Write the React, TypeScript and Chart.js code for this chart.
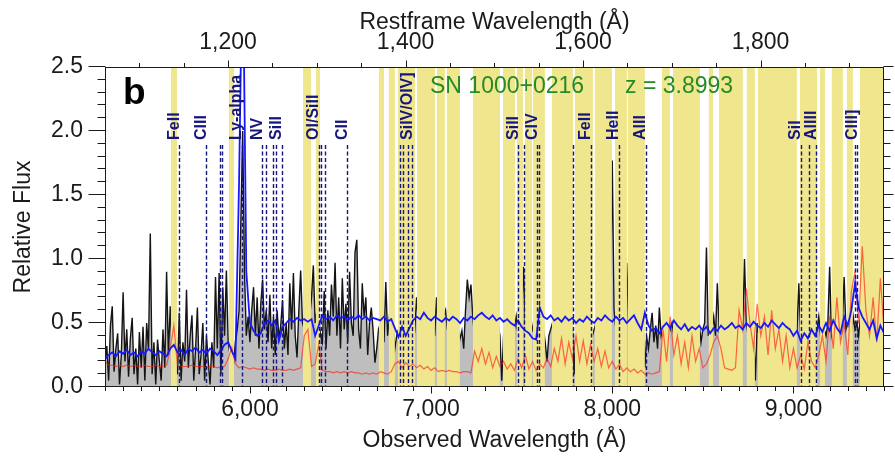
import { useEffect, useRef } from 'react';
import { Chart, registerables } from 'chart.js';

Chart.register(...registerables);

const FONT = '"Liberation Sans", Arial, Helvetica, sans-serif';
Chart.defaults.font.family = FONT;

// Redshift of the host and the observed-frame range shown
const Z = 3.8993;
const OBS_MIN = 5200;
const OBS_MAX = 9500;

// Observed spectrum, 10 Å bins from 5200 Å
const SPEC_START = 5200;
const SPEC_STEP = 10;
const specFlux = [
  0.20, 0.32, 0.05, 0.48, 0.63, 0.12, 0.30, 0.42, 0.02, 0.25,
  0.74, 0.20, 0.45, 0.08, 0.38, 0.54, 0.10, 0.30, 0.02, 0.43,
  0.15, 0.47, 0.05, 0.50, 0.30, 1.20, 0.10, 0.35, 0.02, 0.37,
  0.20, 0.05, 0.45, 0.15, 0.90, 0.25, 0.63, 0.30, 0.45, 0.20,
  0.10, 0.58, 0.05, 0.35, 0.20, 0.76, 0.15, 0.40, 0.56, 0.05,
  0.30, 0.62, 0.10, 0.25, 0.50, 0.05, 0.40, 0.20, 0.02, 0.35,
  0.15, 0.86, 0.30, 0.89, 0.10, 0.78, 0.40, 0.91, 0.35, 0.25,
  0.30, 0.20, 0.35, 0.45, 0.60, 1.30, 2.00, 0.90, 0.40, 0.55,
  0.35, 0.60, 0.78, 0.40, 0.70, 0.30, 0.65, 0.84, 0.45, 0.60,
  0.35, 0.72, 0.30, 0.55, 0.25, 0.60, 0.38, 0.48, 0.68, 0.30,
  0.50, 0.25, 0.81, 0.45, 0.89, 0.40, 0.23, 0.60, 0.91, 0.50,
  0.45, 0.60, 0.50, 0.55, 0.70, 0.95, 0.50, 0.60, 0.55, 0.40,
  0.35, 0.75, 0.30, 0.60, 0.40, 0.80, 0.55, 0.97, 0.40, 0.70,
  0.30, 0.85, 0.45, 0.65, 0.35, 0.90, 0.50, 0.40, 1.05, 1.15,
  0.45, 0.30, 0.81, 0.55, 0.70, 0.25, 0.50, 0.62, 0.44, 0.19,
  0.30, 0.45, 0.40, 0.50, 0.35, 0.82, 0.40, 0.55, 0.45, 0.50,
  0.30, 0.40, 0.45, 0.50, 0.40, 0.55, 0.35, 0.50, 0.45, 0.40,
  0.50, 0.45, 0.70, 0.50, 0.40, 0.55, 0.45, 0.50, 0.40, 0.55,
  0.45, 0.50, 0.40, 0.70, 0.40, 0.50, 0.35, 0.55, 0.60, 0.45,
  0.40, 0.55, 0.45, 0.50, 0.40, 0.45, 0.38, 0.44, 0.30, 0.60,
  0.84, 0.70, 0.80, 0.55, 0.40, 0.35, 0.45, 0.40, 0.50, 0.45,
  0.40, 0.50, 0.45, 0.35, 0.50, 0.45, 0.40, 0.50, 0.40, 0.05,
  0.40, 0.50, 0.55, 0.45, 0.40, 0.50, 0.45, 0.55, 0.40, 0.50,
  0.60, 0.94, 0.50, 0.45, 0.40, 0.50, 0.45, 0.55, 0.40, 0.45,
  0.50, 0.40, 0.45, 0.35, 0.20, 0.40, 0.45, 0.50, 0.40, 0.45,
  0.50, 0.45, 0.40, 0.60, 0.99, 0.50, 0.40, 0.45, 0.45, 0.10,
  0.50, 0.40, 0.45, 0.55, 0.50, 0.45, 0.40, 0.50, 0.45, 0.40,
  0.45, 0.50, 0.40, 0.55, 0.45, 0.50, 0.40, 0.45, 0.50, 0.60,
  1.77, 0.60, 0.45, 0.50, 0.40, 0.45, 0.50, 0.60, 0.97, 0.50,
  0.45, 0.60, 0.85, 0.50, 0.45, 0.40, 0.45, 0.50, 0.15, 0.39,
  0.30, 0.45, 0.58, 0.35, 0.48, 0.30, 0.62, 0.40, 0.45, 0.50,
  0.40, 0.55, 0.45, 0.50, 0.40, 0.45, 0.50, 0.40, 0.55, 0.45,
  0.50, 0.40, 0.45, 0.55, 0.40, 0.50, 0.45, 0.40, 0.50, 0.35,
  0.45, 0.50, 1.09, 0.40, 0.50, 0.45, 0.55, 0.40, 0.81, 0.45,
  0.50, 0.40, 0.45, 0.55, 0.50, 0.40, 0.45, 0.50, 0.40, 0.45,
  0.50, 0.40, 0.45, 1.00, 0.50, 0.40, 0.45, 0.50, 0.45, 0.05,
  0.50, 0.40, 0.45, 0.55, 0.50, 0.45, 0.40, 0.50, 0.45, 0.55,
  0.45, 0.50, 0.40, 0.45, 0.50, 0.55, 0.40, 0.45, 0.50, 0.45,
  0.40, 0.50, 0.45, 0.81, 0.40, 0.50, 0.45, 0.55, 0.40, 0.50,
  0.45, 0.40, 0.50, 0.45, 0.55, 0.40, 0.50, 0.45, 0.40, 0.50,
  0.94, 0.40, 0.45, 0.50, 0.55, 0.40, 0.45, 0.50, 0.86, 0.45,
  0.50, 0.45, 0.40, 0.55, 0.45, 0.50, 0.40, 0.55, 0.45, 0.50,
  0.45, 0.55, 0.40, 0.50, 0.45, 0.50, 0.40, 0.55, 0.45, 0.50, 0.40,
];

// Redshifted composite template and noise spectrum, 20 Å bins from 5200 Å
const MODEL_START = 5200;
const MODEL_STEP = 20;
const templateFlux = [
  0.22, 0.25, 0.27, 0.24, 0.28, 0.26, 0.29, 0.25, 0.27, 0.24,
  0.28, 0.26, 0.30, 0.27, 0.25, 0.28, 0.26, 0.24, 0.30, 0.33,
  0.27, 0.29, 0.25, 0.30, 0.28, 0.31, 0.27, 0.29, 0.26, 0.30,
  0.28, 0.25, 0.29, 0.33, 0.35, 0.28, 0.22, 1.60, 3.50, 0.90,
  0.50, 0.44, 0.40, 0.42, 0.50, 0.52, 0.48, 0.52, 0.36, 0.47,
  0.50, 0.53, 0.51, 0.54, 0.52, 0.53, 0.51, 0.53, 0.40, 0.48,
  0.56, 0.53, 0.55, 0.52, 0.56, 0.54, 0.55, 0.52, 0.55, 0.53,
  0.56, 0.53, 0.55, 0.52, 0.54, 0.53, 0.52, 0.55, 0.51, 0.53,
  0.46, 0.39, 0.47, 0.40, 0.46, 0.52, 0.55, 0.53, 0.58, 0.54,
  0.52, 0.55, 0.53, 0.51, 0.54, 0.52, 0.55, 0.53, 0.50, 0.54,
  0.52, 0.55, 0.53, 0.56, 0.58, 0.55, 0.53, 0.56, 0.52, 0.54,
  0.51, 0.53, 0.50, 0.48, 0.52, 0.47, 0.44, 0.42, 0.38, 0.37,
  0.62, 0.55, 0.53, 0.56, 0.52, 0.54, 0.51, 0.55, 0.52, 0.54,
  0.50, 0.53, 0.51, 0.55, 0.52, 0.50, 0.54, 0.52, 0.56, 0.53,
  0.51, 0.55, 0.52, 0.54, 0.50, 0.53, 0.56, 0.50, 0.45, 0.58,
  0.48, 0.44, 0.46, 0.42, 0.47, 0.50, 0.46, 0.52, 0.48, 0.45,
  0.49, 0.44, 0.47, 0.45, 0.48, 0.44, 0.47, 0.42, 0.46, 0.44,
  0.48, 0.45, 0.47, 0.50, 0.46, 0.48, 0.45, 0.50, 0.47, 0.51,
  0.48, 0.46, 0.50, 0.47, 0.52, 0.49, 0.46, 0.50, 0.47, 0.45,
  0.40, 0.44, 0.36, 0.42, 0.38, 0.45, 0.40, 0.48, 0.43, 0.50,
  0.44, 0.52, 0.46, 0.42, 0.55, 0.48, 0.60, 0.81, 0.62, 0.55,
  0.50, 0.45, 0.52, 0.38, 0.48, 0.42,
];
const noiseFlux = [
  0.20, 0.17, 0.17, 0.16, 0.17, 0.16, 0.17, 0.16, 0.17, 0.16,
  0.16, 0.17, 0.16, 0.16, 0.17, 0.16, 0.16, 0.17, 0.30, 0.48,
  0.17, 0.16, 0.16, 0.16, 0.17, 0.16, 0.16, 0.16, 0.15, 0.16,
  0.16, 0.15, 0.16, 0.16, 0.22, 0.31, 0.18, 0.15, 0.16, 0.15,
  0.14, 0.15, 0.14, 0.14, 0.13, 0.14, 0.13, 0.13, 0.14, 0.13,
  0.13, 0.14, 0.13, 0.14, 0.15, 0.40, 0.45, 0.16, 0.18, 0.33,
  0.13, 0.12, 0.12, 0.11, 0.12, 0.11, 0.12, 0.11, 0.12, 0.11,
  0.11, 0.10, 0.11, 0.10, 0.11, 0.10, 0.12, 0.11, 0.10, 0.12,
  0.18, 0.20, 0.15, 0.19, 0.16, 0.18, 0.15, 0.17, 0.14, 0.16,
  0.13, 0.15, 0.12, 0.13, 0.12, 0.13, 0.12, 0.12, 0.11, 0.12,
  0.12, 0.11, 0.28, 0.20, 0.30, 0.18, 0.27, 0.15, 0.24, 0.16,
  0.20, 0.14, 0.18, 0.13, 0.22, 0.15, 0.25, 0.14, 0.20, 0.13,
  0.18, 0.15, 0.22, 0.16, 0.30, 0.20, 0.38, 0.18, 0.35, 0.22,
  0.40, 0.20, 0.36, 0.18, 0.33, 0.20, 0.30, 0.16, 0.28, 0.15,
  0.20, 0.14, 0.18, 0.12, 0.15, 0.12, 0.14, 0.11, 0.13, 0.10,
  0.11, 0.10, 0.11, 0.12, 0.45, 0.20, 0.55, 0.25, 0.40, 0.18,
  0.35, 0.15, 0.40, 0.20, 0.30, 0.15, 0.18, 0.25, 0.35, 0.40,
  0.30, 0.15, 0.14, 0.13, 0.15, 0.60, 0.45, 0.77, 0.50, 0.30,
  0.65, 0.40, 0.55, 0.25, 0.60, 0.30, 0.45, 0.20, 0.40, 0.15,
  0.30, 0.15, 0.25, 0.14, 0.35, 0.20, 0.15, 0.25, 0.40, 0.20,
  0.55, 0.30, 0.70, 0.35, 0.50, 0.25, 0.75, 0.90, 0.50, 1.10,
  0.60, 0.40, 0.70, 0.35, 0.85, 0.45,
];

// Wavelength intervals affected by sky emission (observed Å)
const skyBands: [number, number][] = [
  [5564, 5597], [5884, 5912], [6293, 6337], [6364, 6387], [6712, 6740],
  [6767, 6800], [6817, 6911], [6922, 7021], [7032, 7076], [7087, 7159],
  [7231, 7380], [7397, 7463], [7474, 7507], [7518, 7557], [7562, 7628],
  [7667, 7783], [7794, 7893], [7904, 7998], [8015, 8081], [8086, 8180],
  [8274, 8318], [8335, 8484], [8533, 8556], [8589, 8721], [8743, 8787],
  [8804, 9019], [9036, 9130], [9147, 9174], [9212, 9273], [9295, 9328],
  [9367, 9500],
];

// Rest-frame wavelengths of the marked absorption / emission features (Å)
const lineRest = [
  1144.94, 1175.7, 1190.42, 1193.29, 1215.67, 1238.82, 1242.8, 1250.58,
  1253.81, 1260.42, 1302.17, 1304.37, 1309.28, 1334.53, 1393.76, 1397.2,
  1402.77, 1407.38, 1526.71, 1533.43, 1548.2, 1550.78, 1589.0, 1608.45,
  1640.4, 1670.79, 1845.5, 1854.72, 1862.79, 1906.68, 1908.73,
];
const lineNames = [
  'FeII', 'CIII', 'Ly-alpha', 'NV', 'SiII', 'OI/SiII', 'CII', 'SiIV/OIV]',
  'SiII', 'CIV', 'FeII', 'HeII', 'AlII', 'SiI', 'AlIII', 'CIII]',
];
const lineNameRest = [
  1144.94, 1175.7, 1215.67, 1238.82, 1260.42, 1302.17, 1334.53, 1407.38,
  1526.71, 1548.2, 1608.45, 1640.4, 1670.79, 1845.5, 1862.79, 1908.73,
];

const obsTicks = [6000, 7000, 8000, 9000];
const restTicks = [1200, 1400, 1600, 1800];
const fluxTicks = [0, 0.5, 1, 1.5, 2, 2.5];

const SKY = 'rgb(239,230,141)';
const INK = '#1b1b1b';
const NAVY = '#16167c';
const GREEN = '#268a26';

const gridPoints = (start: number, step: number, vals: number[]) =>
  vals.map((v, i) => ({ x: start + i * step, y: v }));

const decorations = {
  id: 'decorations',
  afterDatasetDraw(chart: any, args: any) {
    // sky bands cover the observed spectrum but sit below template and noise
    if (args.index !== 2) return;
    const { ctx, chartArea: a, scales } = chart;
    const x = scales.x;
    ctx.save();
    ctx.beginPath();
    ctx.rect(a.left, a.top, a.right - a.left, a.bottom - a.top);
    ctx.clip();
    ctx.fillStyle = SKY;
    for (const [lo, hi] of skyBands) {
      const x1 = x.getPixelForValue(lo);
      const x2 = x.getPixelForValue(hi);
      ctx.fillRect(x1, a.top, x2 - x1, a.bottom - a.top);
    }
    ctx.restore();
  },
  afterDatasetsDraw(chart: any) {
    const { ctx, chartArea: a, scales } = chart;
    const x = scales.x;
    const y = scales.y;
    ctx.save();
    // feature markers
    const yTop = y.getPixelForValue(1.89);
    ctx.strokeStyle = NAVY;
    ctx.lineWidth = 1.4;
    ctx.setLineDash([4, 2.5]);
    for (const r of lineRest) {
      const px = Math.round(x.getPixelForValue(r * (1 + Z))) + 0.5;
      ctx.beginPath();
      ctx.moveTo(px, yTop);
      ctx.lineTo(px, a.bottom);
      ctx.stroke();
    }
    ctx.setLineDash([]);
    const yBase = y.getPixelForValue(1.93);
    ctx.fillStyle = NAVY;
    ctx.font = `bold 16px ${FONT}`;
    ctx.textAlign = 'left';
    ctx.textBaseline = 'alphabetic';
    lineNames.forEach((name, i) => {
      const px = x.getPixelForValue(lineNameRest[i] * (1 + Z)) - 0.5;
      ctx.save();
      ctx.translate(px, yBase);
      ctx.rotate(-Math.PI / 2);
      ctx.fillText(name, 0, 0);
      ctx.restore();
    });
    // panel letter and object name
    ctx.fillStyle = '#000';
    ctx.font = `bold 37px ${FONT}`;
    ctx.fillText('b', a.left + 18, a.top + 37);
    ctx.fillStyle = GREEN;
    ctx.font = `23px ${FONT}`;
    ctx.fillText('SN 1000+0216', a.left + 325, a.top + 26);
    ctx.fillText('z = 3.8993', a.left + 520, a.top + 26);
    ctx.restore();
  },
  afterDraw(chart: any) {
    const { ctx, chartArea: a, scales } = chart;
    const { x, xTop, y } = scales;
    ctx.save();
    ctx.strokeStyle = INK;
    ctx.lineWidth = 1;
    const seg = (x1: number, y1: number, x2: number, y2: number) => {
      ctx.beginPath();
      ctx.moveTo(x1, y1);
      ctx.lineTo(x2, y2);
      ctx.stroke();
    };
    const L = Math.round(a.left) + 0.5;
    const R = Math.round(a.right) - 0.5;
    const T = Math.round(a.top) + 0.5;
    const B = Math.round(a.bottom) - 0.5;
    ctx.strokeRect(L, T, R - L, B - T);
    for (let v = OBS_MIN; v <= OBS_MAX; v += 100) {
      const px = Math.round(x.getPixelForValue(v)) + 0.5;
      seg(px, B, px, B + (v % 1000 === 0 ? 7 : 4.5));
    }
    for (let v = 1100; v <= 1900; v += 50) {
      const px = Math.round(xTop.getPixelForValue(v)) + 0.5;
      if (px < a.left || px > a.right) continue;
      seg(px, T, px, T - (v % 200 === 0 ? 7 : 4.5));
    }
    for (let i = 0; i <= 25; i++) {
      const py = Math.round(y.getPixelForValue(i / 10)) - 0.5;
      const major = i % 5 === 0;
      seg(L, py, L - (major ? 17 : 8), py);
      seg(R, py, R + (major ? 10 : 7), py);
    }
    ctx.restore();
  },
};

const tickFont = { family: FONT, size: 23 };
const titleFont = { family: FONT, size: 23 };

export default function App() {
  const ref = useRef<HTMLCanvasElement>(null);

  useEffect(() => {
    if (!ref.current) return;
    const chart = new Chart(ref.current, {
      type: 'line',
      data: {
        datasets: [
          {
            label: 'template',
            data: gridPoints(MODEL_START, MODEL_STEP, templateFlux),
            borderColor: 'rgb(24,24,255)',
            borderWidth: 1.8,
            pointRadius: 0,
            fill: false,
            order: 0,
            clip: 0,
          },
          {
            label: 'noise',
            data: gridPoints(MODEL_START, MODEL_STEP, noiseFlux),
            borderColor: 'rgba(255,30,20,0.65)',
            borderWidth: 1.2,
            pointRadius: 0,
            fill: false,
            order: 1,
            clip: 0,
          },
          {
            label: 'spectrum',
            data: gridPoints(SPEC_START, SPEC_STEP, specFlux),
            borderColor: '#141414',
            borderWidth: 1.4,
            backgroundColor: 'rgb(190,190,190)',
            pointRadius: 0,
            fill: 'origin',
            order: 2,
            clip: 0,
          },
        ],
      },
      options: {
        animation: false,
        responsive: false,
        devicePixelRatio: 1,
        events: [],
        layout: { padding: 0 },
        plugins: { legend: { display: false }, tooltip: { enabled: false } },
        scales: {
          x: {
            type: 'linear',
            position: 'bottom',
            min: OBS_MIN,
            max: OBS_MAX,
            afterBuildTicks: (s: any) => { s.ticks = obsTicks.map((v) => ({ value: v })); },
            afterFit: (s: any) => { s.height = 69; },
            ticks: {
              callback: (v: any) => Number(v).toLocaleString('en-US'),
              font: tickFont, color: INK, padding: 9, maxRotation: 0, minRotation: 0, autoSkip: false,
            },
            grid: { display: false, drawTicks: false },
            border: { display: false },
            title: { display: true, text: 'Observed Wavelength (Å)', font: titleFont, color: INK, padding: { top: 0, bottom: 2 } },
          },
          xTop: {
            type: 'linear',
            position: 'top',
            min: OBS_MIN / (1 + Z),
            max: OBS_MAX / (1 + Z),
            afterBuildTicks: (s: any) => { s.ticks = restTicks.map((v) => ({ value: v })); },
            afterFit: (s: any) => { s.height = 67; },
            ticks: {
              callback: (v: any) => Number(v).toLocaleString('en-US'),
              font: tickFont, color: INK, padding: 11, maxRotation: 0, minRotation: 0, autoSkip: false,
            },
            grid: { display: false, drawTicks: false },
            border: { display: false },
            title: { display: true, text: 'Restframe Wavelength (Å)', font: titleFont, color: INK, padding: { top: 9, bottom: 0 } },
          },
          y: {
            type: 'linear',
            position: 'left',
            min: 0,
            max: 2.5,
            afterBuildTicks: (s: any) => { s.ticks = fluxTicks.map((v) => ({ value: v })); },
            afterFit: (s: any) => { s.width = 105; },
            ticks: { callback: (v: any) => Number(v).toFixed(1), font: tickFont, color: INK, padding: 22 },
            grid: { display: false, drawTicks: false },
            border: { display: false },
            title: { display: true, text: 'Relative Flux', font: titleFont, color: INK, padding: { top: 10, bottom: 0 } },
          },
          yRight: {
            type: 'linear',
            position: 'right',
            min: 0,
            max: 2.5,
            afterFit: (s: any) => { s.width = 11; },
            ticks: { display: false },
            grid: { display: false, drawTicks: false },
            border: { display: false },
          },
        },
      } as any,
      plugins: [decorations],
    });
    return () => chart.destroy();
  }, []);

  return (
    <div style={{ position: 'fixed', left: 0, top: 0, width: 895, height: 456, background: '#fff' }}>
      <canvas ref={ref} width={895} height={456} style={{ display: 'block' }} />
    </div>
  );
}
